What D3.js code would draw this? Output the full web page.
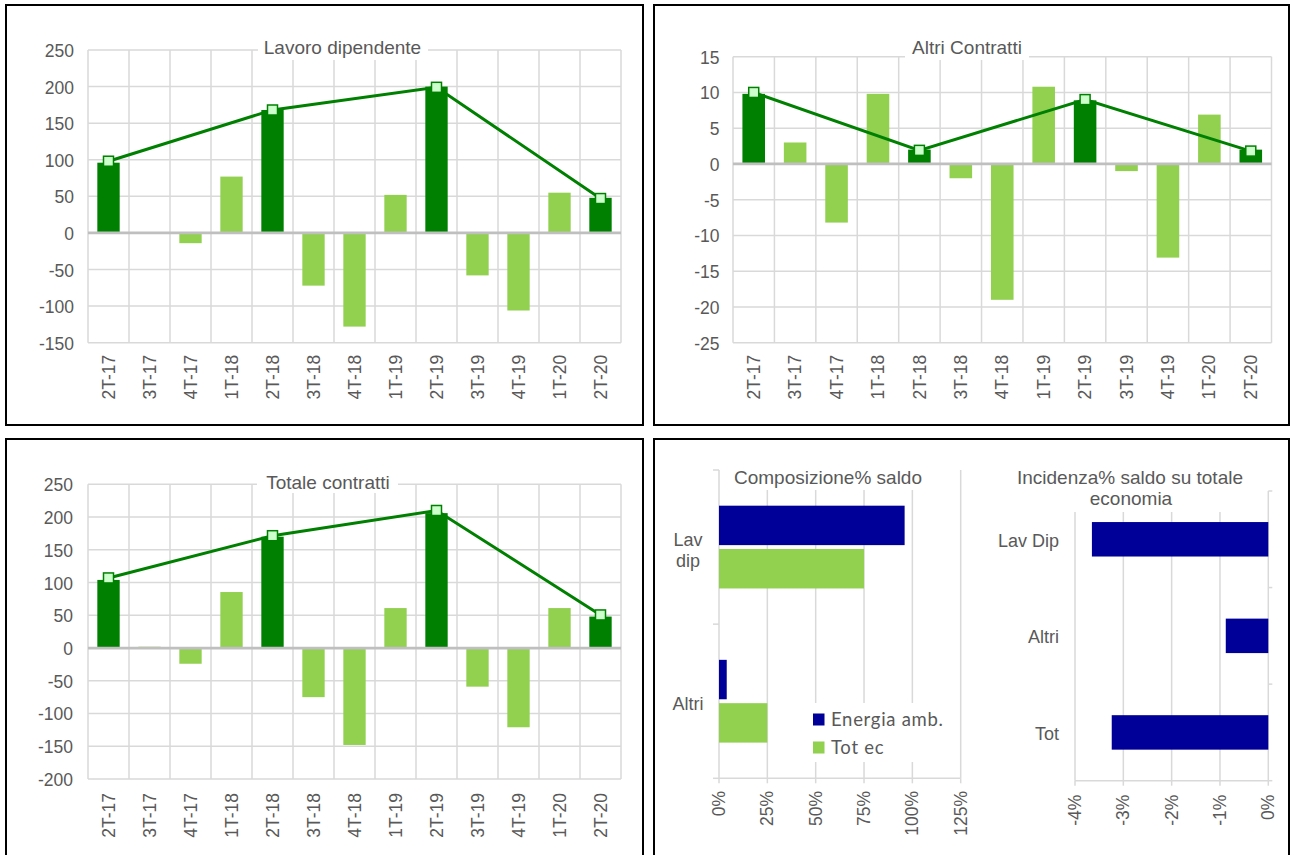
<!DOCTYPE html>
<html><head><meta charset="utf-8">
<script src="https://cdn.jsdelivr.net/npm/d3@7"></script>
<style>
body{margin:0;background:#fff}
svg{display:block}
text{font-family:"Liberation Sans",Arial,sans-serif;fill:#595959}
</style>
</head><body>
<svg id="c" width="1292" height="855"></svg>
<script>
// ---------- DATA ----------
const categories = ["2T-17","3T-17","4T-17","1T-18","2T-18","3T-18","4T-18","1T-19","2T-19","3T-19","4T-19","1T-20","2T-20"];
const trendCategories = ["2T-17","2T-18","2T-19","2T-20"];

const lavoroDipendente      = [96, 0, -14, 77, 168, -72, -128, 52, 200, -58, -106, 55, 48];
const lavoroDipendenteTrend = [98, 168, 199, 47];
const altriContratti        = [9.8, 3, -8.2, 9.8, 2, -2, -19, 10.8, 8.9, -1, -13.1, 6.9, 2];
const altriContrattiTrend   = [10, 1.9, 9, 1.8];
const totaleContratti       = [104, 2, -24, 85.5, 170, -75, -148, 61, 206, -59, -121, 61, 48];
const totaleContrattiTrend  = [107, 171.5, 210, 50.5];

const lavoroTicks = [-150, -100, -50, 0, 50, 100, 150, 200, 250];
const altriTicks  = [-25, -20, -15, -10, -5, 0, 5, 10, 15];
const totaleTicks = [-200, -150, -100, -50, 0, 50, 100, 150, 200, 250];

const compCategories = ["Lav dip", "Altri"];
const compSeries     = ["Energia amb.", "Tot ec"];
const compEnergia    = [0.96, 0.04];
const compTotEc      = [0.75, 0.25];
const compTicks      = [0, 0.25, 0.5, 0.75, 1, 1.25];

const incCategories = ["Lav Dip", "Altri", "Tot"];
const incValues     = [-0.0365, -0.0088, -0.0324];
const incTicks      = [-0.04, -0.03, -0.02, -0.01, 0];

// ---------- STYLE ----------
const DARK = "#008000", LIGHT = "#92D050", NAVY = "#000099", GRID = "#D9D9D9";
const svg = d3.select("#c");
const pct = d => Math.round(d * 100) + "%";

// panel frames
[[6,5,637,420],[654,5,635,420],[6,439,637,430],[654,439,635,430]].forEach(r=>{
  svg.append("rect").attr("x",r[0]).attr("y",r[1]).attr("width",r[2]).attr("height",r[3])
    .attr("fill","none").attr("stroke","#000").attr("stroke-width",2);
});

function vPanel(o){
  const g = svg.append("g");
  const x = d3.scaleBand().domain(categories).range([o.x0, o.x1]).paddingInner(0.455).paddingOuter(0.2275);
  const y = d3.scaleLinear().domain([o.ticks[0], o.ticks[o.ticks.length-1]]).range([o.y1, o.y0]);
  const bw = x.bandwidth();
  // horizontal gridlines
  g.selectAll(".hg").data(o.ticks.filter(t => t !== 0)).join("line")
    .attr("x1", o.x0).attr("x2", o.x1).attr("y1", d => y(d)).attr("y2", d => y(d))
    .attr("stroke", GRID).attr("stroke-width", 1.5);
  // vertical gridlines at category boundaries
  g.selectAll(".vg").data(d3.range(categories.length + 1)).join("line")
    .attr("x1", i => o.x0 + i * x.step()).attr("x2", i => o.x0 + i * x.step())
    .attr("y1", o.y0).attr("y2", o.y1)
    .attr("stroke", GRID).attr("stroke-width", 1.5);
  // title box
  g.append("rect").attr("x", o.box[0]).attr("y", o.box[1]).attr("width", o.box[2]-o.box[0]).attr("height", o.box[3]-o.box[1]).attr("fill","#fff");
  g.append("text").attr("x", o.tx).attr("y", o.ty).attr("text-anchor","middle").attr("font-size", 19).text(o.title);
  // y axis labels
  const ya = g.append("g").attr("transform", `translate(${o.x0},0)`)
    .call(d3.axisLeft(y).tickValues(o.ticks).tickSize(0).tickPadding(o.tp).tickFormat(d => String(d)));
  ya.select(".domain").remove();
  ya.selectAll("text").attr("font-size", 17.5).attr("fill", "#595959").attr("font-family",'"Liberation Sans",Arial,sans-serif').attr("dy","0.37em");
  // bars
  g.selectAll(".bar").data(o.values).join("rect")
    .attr("x", (d,i) => x(categories[i])).attr("width", bw)
    .attr("y", d => Math.min(y(d), y(0))).attr("height", d => Math.abs(y(d) - y(0)))
    .attr("fill", (d,i) => trendCategories.includes(categories[i]) ? DARK : LIGHT);
  // zero line
  g.append("line").attr("x1", o.x0).attr("x2", o.x1).attr("y1", y(0)).attr("y2", y(0))
    .attr("stroke", "#BFBFBF").attr("stroke-width", 2.75);
  // x axis labels
  const xa = g.append("g").attr("transform", `translate(0,${o.y1})`)
    .call(d3.axisBottom(x).tickSize(0));
  xa.select(".domain").remove();
  xa.selectAll("text").attr("transform","rotate(-90)").attr("text-anchor","end")
    .attr("x", -o.xg).attr("y", 0).attr("dy","0.35em")
    .attr("font-size", 17.5).attr("fill", "#595959").attr("font-family",'"Liberation Sans",Arial,sans-serif');
  // trend line
  const pts = o.trend.map((v,i) => [x(trendCategories[i]) + bw/2, y(v)]);
  g.append("path").attr("d", d3.line()(pts)).attr("fill","none").attr("stroke", DARK).attr("stroke-width", 3);
  g.selectAll(".mk").data(pts).join("rect")
    .attr("x", d => d[0]-5).attr("y", d => d[1]-5).attr("width", 10).attr("height", 10)
    .attr("fill", "#CCFFCC").attr("stroke", DARK).attr("stroke-width", 1.5);
}

vPanel({x0:88, x1:621, y0:50, y1:342.7, ticks:lavoroTicks, values:lavoroDipendente, trend:lavoroDipendenteTrend,
  title:"Lavoro dipendente", tx:342.5, ty:54, box:[258,30,428,60], tp:14, xg:12});
vPanel({x0:733, x1:1271.5, y0:56.7, y1:342.7, ticks:altriTicks, values:altriContratti, trend:altriContrattiTrend,
  title:"Altri Contratti", tx:967, ty:54, box:[905,30,1029,60], tp:13.5, xg:12});
vPanel({x0:88, x1:621, y0:484.3, y1:779, ticks:totaleTicks, values:totaleContratti, trend:totaleContrattiTrend,
  title:"Totale contratti", tx:328, ty:489, box:[257,465,398,493], tp:15, xg:14});

// ---------- Composizione% saldo ----------
(function(){
  const g = svg.append("g");
  const y0 = 470, y1 = 778.3, x0 = 719, x1 = 960.7;
  const yb = d3.scaleBand().domain(compCategories).range([y0, y1]).paddingInner(0.463).paddingOuter(0.2315);
  const ys = d3.scaleBand().domain(compSeries).range([0, yb.bandwidth()]).paddingInner(0.09);
  const x = d3.scaleLinear().domain([compTicks[0], compTicks[compTicks.length-1]]).range([x0, x1]);
  g.selectAll(".vg").data(compTicks).join("line")
    .attr("x1", d => x(d)).attr("x2", d => x(d)).attr("y1", y0).attr("y2", y1)
    .attr("stroke", GRID).attr("stroke-width", 1.5);
  // category ticks
  g.selectAll(".ct").data(d3.range(compCategories.length + 1)).join("line")
    .attr("x1", x0 - 6).attr("x2", x0).attr("y1", i => y0 + i * yb.step()).attr("y2", i => y0 + i * yb.step())
    .attr("stroke", GRID).attr("stroke-width", 1.5);
  // bottom axis
  g.append("line").attr("x1", x0).attr("x2", x1).attr("y1", y1).attr("y2", y1).attr("stroke", GRID).attr("stroke-width", 1.5);
  g.selectAll(".bt").data(compTicks).join("line")
    .attr("x1", d => x(d)).attr("x2", d => x(d)).attr("y1", y1).attr("y2", y1 + 5)
    .attr("stroke", GRID).attr("stroke-width", 1.5);
  // title
  g.append("rect").attr("x", 726).attr("y", 458).attr("width", 206).attr("height", 32).attr("fill", "#fff");
  g.append("text").attr("x", 828).attr("y", 484).attr("text-anchor","middle").attr("font-size", 19).text("Composizione% saldo");
  // bars
  const series = [compEnergia, compTotEc];
  const cols = [NAVY, LIGHT];
  series.forEach((vals, si) => {
    g.selectAll(".b" + si).data(vals).join("rect")
      .attr("x", x(0)).attr("width", d => x(d) - x(0))
      .attr("y", (d,i) => yb(compCategories[i]) + ys(compSeries[si])).attr("height", ys.bandwidth())
      .attr("fill", cols[si]);
  });
  // category labels
  compCategories.forEach(c => {
    const lines = c.split(" ");
    const cy = yb(c) + yb.bandwidth()/2;
    const t = g.append("text").attr("text-anchor","middle").attr("font-size", 18);
    lines.forEach((l, i) => {
      t.append("tspan").attr("x", 688).attr("y", cy + 9 - (lines.length-1)*21/2 + i*21).text(l);
    });
  });
  // x tick labels
  g.selectAll(".xl").data(compTicks).join("text")
    .attr("transform", d => `translate(${x(d)},${y1 + 12.7}) rotate(-90)`)
    .attr("text-anchor","end").attr("dy","0.35em").attr("font-size", 17.5).text(pct);
  // legend
  g.append("rect").attr("x", 806).attr("y", 703).attr("width", 144).attr("height", 59).attr("fill", "#fff");
  compSeries.forEach((s, i) => {
    g.append("rect").attr("x", 813).attr("y", 713.5 + i*28).attr("width", 11.5).attr("height", 12).attr("fill", cols[i]);
    g.append("text").attr("x", 831).attr("y", 726 + i*28).attr("font-size", 18.5)
      .style("font-family", "Lato, 'Open Sans', sans-serif").attr("letter-spacing", 0.7).text(s);
  });
})();

// ---------- Incidenza% saldo su totale economia ----------
(function(){
  const g = svg.append("g");
  const y0 = 491, y1 = 780.7, x0 = 1075, x1 = 1268.3;
  const yb = d3.scaleBand().domain(incCategories).range([y0, y1]).paddingInner(0.643).paddingOuter(0.3215);
  const x = d3.scaleLinear().domain([incTicks[0], incTicks[incTicks.length-1]]).range([x0, x1]);
  g.selectAll(".vg").data(incTicks).join("line")
    .attr("x1", d => x(d)).attr("x2", d => x(d)).attr("y1", y0).attr("y2", y1)
    .attr("stroke", GRID).attr("stroke-width", 1.5);
  g.selectAll(".ct").data(d3.range(incCategories.length + 1)).join("line")
    .attr("x1", x1).attr("x2", x1 + 4).attr("y1", i => y0 + i * yb.step()).attr("y2", i => y0 + i * yb.step())
    .attr("stroke", GRID).attr("stroke-width", 1.5);
  g.append("line").attr("x1", x0).attr("x2", x1).attr("y1", y1).attr("y2", y1).attr("stroke", GRID).attr("stroke-width", 1.5);
  g.selectAll(".bt").data(incTicks).join("line")
    .attr("x1", d => x(d)).attr("x2", d => x(d)).attr("y1", y1).attr("y2", y1 + 5)
    .attr("stroke", GRID).attr("stroke-width", 1.5);
  // title
  g.append("rect").attr("x", 1015).attr("y", 458).attr("width", 230).attr("height", 54).attr("fill", "#fff");
  g.append("text").attr("x", 1130).attr("y", 484).attr("text-anchor","middle").attr("font-size", 19).text("Incidenza% saldo su totale");
  g.append("text").attr("x", 1131).attr("y", 505).attr("text-anchor","middle").attr("font-size", 19).text("economia");
  // bars
  g.selectAll(".b").data(incValues).join("rect")
    .attr("x", d => x(d)).attr("width", d => x(0) - x(d))
    .attr("y", (d,i) => yb(incCategories[i])).attr("height", yb.bandwidth())
    .attr("fill", NAVY);
  // category labels
  g.selectAll(".cl").data(incCategories).join("text")
    .attr("x", 1059).attr("y", d => yb(d) + yb.bandwidth()/2 + 7.5)
    .attr("text-anchor","end").attr("font-size", 18).text(d => d);
  // x tick labels
  g.selectAll(".xl").data(incTicks).join("text")
    .attr("transform", d => `translate(${x(d)},${y1 + 14}) rotate(-90)`)
    .attr("text-anchor","end").attr("dy","0.35em").attr("font-size", 17.5).text(pct);
})();
</script>
</body></html>
